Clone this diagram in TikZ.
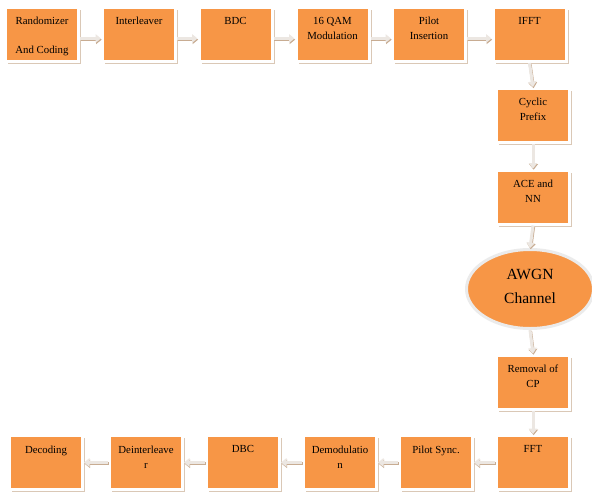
\documentclass[tikz,border=0pt]{standalone}
\usepackage{fontspec}
\setmainfont{Liberation Serif}
\usetikzlibrary{shapes.geometric,shadows,arrows.meta}

\definecolor{blockorange}{RGB}{247,150,70}
\definecolor{blockshade}{RGB}{218,200,182}
\definecolor{flowfill}{RGB}{236,231,226}
\definecolor{flowshade}{RGB}{200,172,146}

% top aligned text inside a block
\newcommand{\blk}[1]{\parbox[c][34pt][t]{70pt}{\centering #1}}

\begin{document}
\begin{tikzpicture}[x=1pt,y=-1pt,
  block/.style={rectangle,fill=blockorange,draw=white,line width=3pt,
    minimum width=73pt,minimum height=54pt,inner sep=0pt,
    font=\fontsize{10.8}{15}\selectfont,
    drop shadow={shadow xshift=2.6pt,shadow yshift=-2.8pt,fill=blockshade,opacity=1}},
  channel/.style={ellipse,fill=blockorange,draw=white!92!black,line width=3pt,
    minimum width=127pt,minimum height=79pt,inner sep=0pt,
    font=\fontsize{15.5}{25}\selectfont},
  flow/.style={draw=flowfill,line width=3pt,-{Triangle[width=8.5pt,length=5.5pt]},
    preaction={draw=flowshade,line width=3pt,transform canvas={shift={(0.6pt,-1.2pt)}}}}]
\useasboundingbox (0,0) rectangle (592,493);

% transmitter
\node[block] (rand)  at (42,34.5)    {\blk{Randomizer\\[14pt]And Coding}};
\node[block] (inter) at (139,34.5)   {\blk{Interleaver}};
\node[block] (bdc)   at (235.5,34.5) {\blk{BDC}};
\node[block] (qam)   at (332.5,34.5) {\blk{16 QAM\\Modulation}};
\node[block] (pilot) at (429,34.5)   {\blk{Pilot\\Insertion}};
\node[block] (ifft)  at (529.5,34.5) {\blk{IFFT}};
\node[block] (cp)    at (533,115.5)  {\blk{Cyclic\\Prefix}};
\node[block] (ace)   at (533,197)    {\blk{ACE and\\NN}};

% channel
\node[channel,align=center] (awgn) at (530,289) {AWGN\\[-1pt]Channel\rule[-6pt]{0pt}{6pt}};

% receiver
\node[block] (rcp)   at (533,382)    {\blk{Removal of\\CP}};
\node[block] (fft)   at (533,462.5)  {\blk{FFT}};
\node[block] (psync) at (436,462.5)  {\blk{Pilot Sync.}};
\node[block] (demod) at (340,462.5)  {\blk{Demodulatio\\n}};
\node[block] (dbc)   at (243,462.5)  {\blk{DBC}};
\node[block] (deint) at (146,462.5)  {\blk{Deinterleave\\r}};
\node[block] (dec)   at (46,462.5)   {\blk{Decoding}};

\draw[flow] ([yshift=-4pt]rand.east)  -- ([yshift=-4pt]inter.west);
\draw[flow] ([yshift=-4pt]inter.east) -- ([yshift=-4pt]bdc.west);
\draw[flow] ([yshift=-4pt]bdc.east)   -- ([yshift=-4pt]qam.west);
\draw[flow] ([yshift=-4pt]qam.east)   -- ([yshift=-4pt]pilot.west);
\draw[flow] ([yshift=-4pt]pilot.east) -- ([yshift=-4pt]ifft.west);
\draw[flow] (ifft.south) -- (cp.north);
\draw[flow] (cp.south)   -- (ace.north);
\draw[flow] (ace.south)  -- (awgn.north);
\draw[flow] (awgn.south) -- (rcp.north);
\draw[flow] (rcp.south)  -- (fft.north);
\draw[flow] (fft.west)   -- (psync.east);
\draw[flow] (psync.west) -- (demod.east);
\draw[flow] (demod.west) -- (dbc.east);
\draw[flow] (dbc.west)   -- (deint.east);
\draw[flow] (deint.west) -- (dec.east);

\end{tikzpicture}
\end{document}
